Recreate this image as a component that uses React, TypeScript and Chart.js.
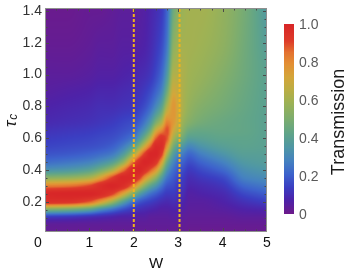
import { useEffect, useRef } from 'react';
import { Chart, registerables } from 'chart.js';

Chart.register(...registerables);

// ---- data ----
const gridW = [0, 0.5, 1, 1.25, 1.5, 1.75, 2, 2.125, 2.25, 2.375, 2.5, 2.625, 2.75, 2.9, 3.0, 3.1, 3.25, 3.5, 4, 4.5, 5];
const gridTau = [0, 0.05, 0.1, 0.15, 0.2, 0.25, 0.3, 0.35, 0.4, 0.45, 0.5, 0.55, 0.6, 0.65, 0.7, 0.8, 0.9, 1.0, 1.2, 1.4];
// one column per W value, listing transmission at each tau in gridTau
const transmission = [
  [0.02, 0.03, 0.12, 0.5, 0.96, 0.99, 0.82, 0.54, 0.33, 0.23, 0.18, 0.15, 0.13, 0.11, 0.09, 0.07, 0.05, 0.04, 0.02, 0.01],
  [0.02, 0.03, 0.11, 0.47, 0.95, 1.0, 0.84, 0.56, 0.35, 0.25, 0.19, 0.16, 0.14, 0.12, 0.1, 0.08, 0.06, 0.04, 0.02, 0.01],
  [0.02, 0.03, 0.09, 0.4, 0.88, 1.0, 0.9, 0.62, 0.4, 0.28, 0.21, 0.17, 0.15, 0.13, 0.11, 0.09, 0.07, 0.05, 0.03, 0.02],
  [0.02, 0.03, 0.08, 0.31, 0.76, 0.98, 0.97, 0.74, 0.48, 0.32, 0.23, 0.18, 0.16, 0.14, 0.12, 0.1, 0.08, 0.06, 0.04, 0.02],
  [0.02, 0.03, 0.07, 0.24, 0.6, 0.92, 1.0, 0.9, 0.6, 0.38, 0.26, 0.2, 0.17, 0.15, 0.13, 0.1, 0.08, 0.06, 0.04, 0.03],
  [0.02, 0.03, 0.06, 0.17, 0.4, 0.74, 0.97, 0.99, 0.82, 0.54, 0.36, 0.26, 0.2, 0.17, 0.15, 0.11, 0.09, 0.07, 0.05, 0.04],
  [0.02, 0.03, 0.06, 0.12, 0.24, 0.5, 0.82, 0.98, 0.99, 0.86, 0.6, 0.39, 0.26, 0.2, 0.17, 0.12, 0.1, 0.08, 0.05, 0.04],
  [0.02, 0.03, 0.05, 0.1, 0.19, 0.38, 0.67, 0.92, 1.0, 0.96, 0.78, 0.53, 0.35, 0.26, 0.2, 0.14, 0.11, 0.09, 0.06, 0.05],
  [0.02, 0.03, 0.05, 0.09, 0.16, 0.3, 0.53, 0.78, 0.96, 1.0, 0.92, 0.7, 0.48, 0.34, 0.26, 0.17, 0.13, 0.1, 0.07, 0.06],
  [0.02, 0.03, 0.04, 0.08, 0.14, 0.24, 0.42, 0.66, 0.88, 0.99, 1.0, 0.86, 0.65, 0.47, 0.35, 0.22, 0.16, 0.12, 0.09, 0.08],
  [0.02, 0.03, 0.04, 0.07, 0.12, 0.2, 0.34, 0.54, 0.77, 0.94, 1.0, 0.98, 0.87, 0.69, 0.5, 0.3, 0.21, 0.16, 0.12, 0.1],
  [0.02, 0.03, 0.04, 0.06, 0.1, 0.16, 0.25, 0.38, 0.56, 0.76, 0.92, 0.97, 0.94, 0.8, 0.62, 0.4, 0.28, 0.22, 0.16, 0.13],
  [0.02, 0.03, 0.04, 0.06, 0.09, 0.13, 0.18, 0.25, 0.34, 0.46, 0.62, 0.78, 0.88, 0.89, 0.82, 0.62, 0.46, 0.36, 0.26, 0.22],
  [0.02, 0.03, 0.05, 0.07, 0.1, 0.13, 0.16, 0.19, 0.23, 0.29, 0.37, 0.48, 0.6, 0.7, 0.76, 0.77, 0.7, 0.63, 0.54, 0.47],
  [0.02, 0.03, 0.05, 0.07, 0.09, 0.11, 0.13, 0.16, 0.19, 0.23, 0.3, 0.4, 0.52, 0.62, 0.68, 0.7, 0.67, 0.63, 0.58, 0.54],
  [0.02, 0.03, 0.04, 0.06, 0.08, 0.1, 0.12, 0.14, 0.17, 0.21, 0.27, 0.36, 0.47, 0.54, 0.58, 0.62, 0.62, 0.62, 0.6, 0.58],
  [0.01, 0.02, 0.03, 0.04, 0.05, 0.06, 0.08, 0.1, 0.13, 0.17, 0.22, 0.3, 0.39, 0.46, 0.52, 0.56, 0.58, 0.59, 0.6, 0.6],
  [0.01, 0.02, 0.03, 0.04, 0.05, 0.07, 0.09, 0.12, 0.16, 0.21, 0.27, 0.34, 0.4, 0.44, 0.48, 0.52, 0.55, 0.57, 0.59, 0.6],
  [0.01, 0.02, 0.03, 0.05, 0.07, 0.09, 0.12, 0.16, 0.22, 0.28, 0.34, 0.39, 0.42, 0.44, 0.45, 0.48, 0.5, 0.52, 0.55, 0.56],
  [0.01, 0.02, 0.04, 0.07, 0.11, 0.16, 0.22, 0.28, 0.32, 0.36, 0.39, 0.41, 0.42, 0.43, 0.43, 0.44, 0.45, 0.46, 0.47, 0.48],
  [0.01, 0.02, 0.04, 0.08, 0.14, 0.2, 0.26, 0.31, 0.35, 0.38, 0.39, 0.4, 0.4, 0.4, 0.4, 0.4, 0.4, 0.4, 0.38, 0.36],
];
const markerW = [2, 3.03];
const xTickValues = [0, 1, 2, 3, 4, 5];
const xTickLabels = ['0', '1', '2', '3', '4', '5'];
const yTickValues = [0.2, 0.4, 0.6, 0.8, 1.0, 1.2, 1.4];
const yTickLabels = ['0.2', '0.4', '0.6', '0.8', '1.0', '1.2', '1.4'];
const colorbarTickValues = [0, 0.2, 0.4, 0.6, 0.8, 1.0];
const colorbarTickLabels = ['0', '0.2', '0.4', '0.6', '0.8', '1.0'];

const X_MIN = 0;
const X_MAX = 5;
const Y_MIN = 0.009;
const Y_MAX = 1.419;

const FONT = "'Liberation Sans', Arial, Helvetica, sans-serif";

// colormap stops [value, r, g, b]
const COLOR_STOPS: number[][] = [
  [0.0, 110, 26, 138],
  [0.07, 78, 34, 168],
  [0.14, 59, 62, 194],
  [0.21, 61, 99, 204],
  [0.28, 69, 130, 192],
  [0.35, 79, 151, 165],
  [0.42, 95, 164, 138],
  [0.5, 124, 173, 111],
  [0.585, 157, 178, 85],
  [0.65, 185, 174, 69],
  [0.72, 212, 166, 58],
  [0.79, 227, 144, 52],
  [0.85, 228, 114, 48],
  [0.91, 222, 60, 42],
  [1.0, 216, 38, 40],
];

function colormap(v: number): number[] {
  const x = Math.max(0, Math.min(1, v));
  for (let i = 0; i < COLOR_STOPS.length - 1; i++) {
    const a = COLOR_STOPS[i];
    const b = COLOR_STOPS[i + 1];
    if (x <= b[0]) {
      const t = (x - a[0]) / (b[0] - a[0]);
      return [a[1] + (b[1] - a[1]) * t, a[2] + (b[2] - a[2]) * t, a[3] + (b[3] - a[3]) * t];
    }
  }
  const l = COLOR_STOPS[COLOR_STOPS.length - 1];
  return [l[1], l[2], l[3]];
}

function locate(arr: number[], v: number): [number, number] {
  const n = arr.length;
  if (v <= arr[0]) return [0, 0];
  if (v >= arr[n - 1]) return [n - 2, 1];
  let i = 0;
  while (v > arr[i + 1]) i++;
  return [i, (v - arr[i]) / (arr[i + 1] - arr[i])];
}

// monotone cubic (Fritsch-Carlson) slopes for smooth rendering between read values
function pchipSlopes(xs: number[], ys: number[]): number[] {
  const n = xs.length;
  const del: number[] = [];
  for (let i = 0; i < n - 1; i++) del.push((ys[i + 1] - ys[i]) / (xs[i + 1] - xs[i]));
  const d: number[] = new Array(n).fill(0);
  d[0] = del[0];
  d[n - 1] = del[n - 2];
  for (let i = 1; i < n - 1; i++) {
    if (del[i - 1] * del[i] <= 0) d[i] = 0;
    else {
      const h0 = xs[i] - xs[i - 1];
      const h1 = xs[i + 1] - xs[i];
      const w1 = 2 * h1 + h0;
      const w2 = h1 + 2 * h0;
      d[i] = (w1 + w2) / (w1 / del[i - 1] + w2 / del[i]);
    }
  }
  return d;
}

function hermite(xs: number[], ys: number[], ds: number[], i: number, t: number): number {
  const h = xs[i + 1] - xs[i];
  const t2 = t * t;
  const t3 = t2 * t;
  return (
    (2 * t3 - 3 * t2 + 1) * ys[i] +
    (t3 - 2 * t2 + t) * h * ds[i] +
    (-2 * t3 + 3 * t2) * ys[i + 1] +
    (t3 - t2) * h * ds[i + 1]
  );
}

const heatmapPlugin = {
  id: 'heatmap',
  beforeDatasetsDraw(chart: any) {
    const { ctx, chartArea, scales } = chart;
    const x0 = Math.round(chartArea.left);
    const y0 = Math.round(chartArea.top);
    const x1 = Math.round(chartArea.right);
    const y1 = Math.round(chartArea.bottom);
    const w = x1 - x0;
    const h = y1 - y0;
    const off = document.createElement('canvas');
    off.width = w;
    off.height = h;
    const octx = off.getContext('2d')!;
    const img = octx.createImageData(w, h);
    const colSlopes = transmission.map((col) => pchipSlopes(gridTau, col));
    const cols: [number, number][] = [];
    for (let i = 0; i < w; i++) cols.push(locate(gridW, scales.x.getValueForPixel(x0 + i + 0.5)));
    for (let j = 0; j < h; j++) {
      const [ry, ty] = locate(gridTau, scales.y.getValueForPixel(y0 + j + 0.5));
      const rowVals = transmission.map((col, c) => hermite(gridTau, col, colSlopes[c], ry, ty));
      const rowSlopes = pchipSlopes(gridW, rowVals);
      for (let i = 0; i < w; i++) {
        const [cx, tx] = cols[i];
        const v = hermite(gridW, rowVals, rowSlopes, cx, tx);
        const c = colormap(v);
        const k = (j * w + i) * 4;
        img.data[k] = c[0];
        img.data[k + 1] = c[1];
        img.data[k + 2] = c[2];
        img.data[k + 3] = 255;
      }
    }
    octx.putImageData(img, 0, 0);
    ctx.drawImage(off, x0, y0);
  },
};

const decorPlugin = {
  id: 'decor',
  afterDraw(chart: any) {
    const { ctx, chartArea, scales } = chart;
    const L = Math.round(chartArea.left);
    const T = Math.round(chartArea.top);
    const R = Math.round(chartArea.right);
    const B = Math.round(chartArea.bottom);
    ctx.save();
    // ticks (inward, all four sides)
    ctx.strokeStyle = '#4a4a4a';
    ctx.lineWidth = 1;
    ctx.beginPath();
    for (let k = 1; k <= 28; k++) {
      const v = k * 0.05;
      const major = k % 4 === 0;
      const len = major ? 4 : 2.5;
      const py = Math.round(scales.y.getPixelForValue(v)) + 0.5;
      ctx.moveTo(L, py); ctx.lineTo(L + len, py);
      ctx.moveTo(R, py); ctx.lineTo(R - len, py);
    }
    for (let k = 1; k < 20; k++) {
      const v = k * 0.25;
      const major = k % 4 === 0;
      const len = major ? 4 : 2.5;
      const px = Math.round(scales.x.getPixelForValue(v)) + 0.5;
      ctx.moveTo(px, B); ctx.lineTo(px, B - len);
      ctx.moveTo(px, T); ctx.lineTo(px, T + len);
    }
    ctx.stroke();
    // frame
    ctx.strokeStyle = '#8f8f8f';
    ctx.strokeRect(L + 0.5, T + 0.5, R - L - 1, B - T - 1);

    // colorbar
    const cbL = R + 17;
    const cbW = 10;
    const cbT = T + 16;
    const cbB = B - 18;
    for (let y = cbT; y < cbB; y++) {
      const v = (cbB - (y + 0.5)) / (cbB - cbT);
      const c = colormap(v);
      ctx.fillStyle = `rgb(${c[0] | 0},${c[1] | 0},${c[2] | 0})`;
      ctx.fillRect(cbL, y, cbW, 1);
    }
    ctx.fillStyle = '#5a5a5a';
    ctx.font = `14px ${FONT}`;
    ctx.textAlign = 'left';
    ctx.textBaseline = 'middle';
    colorbarTickValues.forEach((v, i) => {
      const y = cbB - v * (cbB - cbT);
      ctx.fillText(colorbarTickLabels[i], cbL + 15, y + 1);
    });
    // colorbar title
    ctx.save();
    ctx.translate(cbL + 55, (cbT + cbB) / 2 + 3);
    ctx.rotate(-Math.PI / 2);
    ctx.fillStyle = '#1a1a1a';
    ctx.font = `18px ${FONT}`;
    ctx.textAlign = 'center';
    ctx.textBaseline = 'middle';
    ctx.fillText('Transmission', 0, 0);
    ctx.restore();

    // y-axis title  tau_c
    ctx.save();
    ctx.translate(16, 127);
    ctx.rotate(-Math.PI / 2);
    ctx.fillStyle = '#1a1a1a';
    ctx.textAlign = 'left';
    ctx.textBaseline = 'alphabetic';
    ctx.font = `italic 17px ${FONT}`;
    ctx.fillText('\u03C4', 0, 0);
    const tw = ctx.measureText('\u03C4').width;
    ctx.font = `italic 12px ${FONT}`;
    ctx.fillText('c', tw + 1, 1);
    ctx.restore();
    ctx.restore();
  },
};

export default function App() {
  const ref = useRef<HTMLCanvasElement | null>(null);
  useEffect(() => {
    if (!ref.current) return;
    const chart = new Chart(ref.current, {
      type: 'scatter',
      data: {
        datasets: markerW.map((w) => ({
          type: 'line' as const,
          data: [
            { x: w, y: Y_MIN },
            { x: w, y: Y_MAX },
          ],
          borderColor: '#f3b31a',
          borderWidth: 2,
          borderDash: [3, 2],
          pointRadius: 0,
          showLine: true,
          fill: false,
        })),
      },
      plugins: [heatmapPlugin, decorPlugin],
      options: {
        responsive: false,
        animation: false,
        devicePixelRatio: 1,
        layout: { padding: { left: 0, top: 8, right: 78, bottom: 0 } },
        plugins: { legend: { display: false }, tooltip: { enabled: false } },
        scales: {
          x: {
            type: 'linear',
            min: X_MIN,
            max: X_MAX,
            afterBuildTicks: (s: any) => {
              s.ticks = xTickValues.map((v) => ({ value: v }));
            },
            afterFit: (s: any) => {
              s.height = 42;
              s.paddingLeft = 0;
              s.paddingRight = 0;
            },
            ticks: {
              autoSkip: false,
              maxRotation: 0,
              padding: 3,
              color: '#111111',
              font: { family: FONT, size: 14 },
              callback: (_v: any, i: number) => (i === 0 ? xTickLabels[0] + '\u2002\u2002' : xTickLabels[i]),
            },
            grid: { display: false, drawTicks: false },
            border: { display: false },
            title: {
              display: true,
              text: 'W',
              color: '#111111',
              font: { family: FONT, size: 15 },
              padding: { top: 0, bottom: 1 },
            },
          },
          y: {
            type: 'linear',
            min: Y_MIN,
            max: Y_MAX,
            afterBuildTicks: (s: any) => {
              s.ticks = yTickValues.map((v) => ({ value: v }));
            },
            afterFit: (s: any) => {
              s.width = 45;
              s.paddingTop = 0;
              s.paddingBottom = 0;
            },
            ticks: {
              autoSkip: false,
              padding: 3,
              color: '#333333',
              font: { family: FONT, size: 14 },
              callback: (_v: any, i: number) => yTickLabels[i],
            },
            grid: { display: false, drawTicks: false },
            border: { display: false },
          },
        },
      },
    } as any);
    return () => chart.destroy();
  }, []);
  return (
    <div style={{ position: 'absolute', left: 0, top: 0, width: 345, height: 274, background: '#fff' }}>
      <canvas ref={ref} width={345} height={274} style={{ display: 'block' }} />
    </div>
  );
}
